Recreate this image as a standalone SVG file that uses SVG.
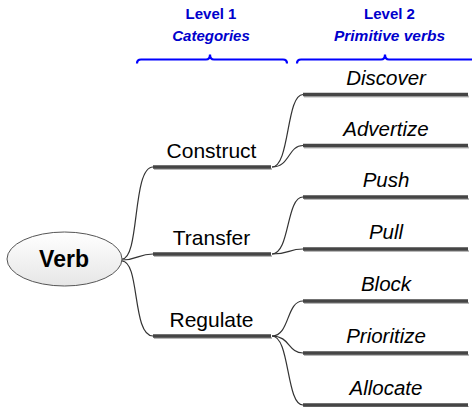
<svg xmlns="http://www.w3.org/2000/svg" width="472" height="407" viewBox="0 0 472 407">
<defs>
<linearGradient id="eg" x1="0" y1="0" x2="0" y2="1">
<stop offset="0" stop-color="#ffffff"/>
<stop offset="1" stop-color="#e6e6e6"/>
</linearGradient>
<style>
.hdr{font-family:"Liberation Sans",Arial,sans-serif;font-weight:bold;fill:#0000cc;text-anchor:middle}
.brace{fill:none;stroke:#0000ff;stroke-width:2.2}
.l1{font-family:"Liberation Sans",Arial,sans-serif;font-size:21px;fill:#000;text-anchor:middle}
.l2{font-family:"Liberation Sans",Arial,sans-serif;font-size:20.5px;font-style:italic;fill:#000;text-anchor:middle}
.bar{stroke:#454545;stroke-width:3.5}
.sh{stroke:#b8b8b8;stroke-width:2}
.con{fill:none;stroke:#333;stroke-width:1.2}
</style>
</defs>
<g id="header">
<text class="hdr" x="211" y="19" font-size="15">Level 1</text>
<text class="hdr" x="211" y="41" font-size="15" font-style="italic">Categories</text>
<text class="hdr" x="389.5" y="19" font-size="15">Level 2</text>
<text class="hdr" x="389.5" y="41" font-size="15.5" font-style="italic">Primitive verbs</text>
<path class="brace" d="M137,63.5 Q137,59.5 141,59.5 L206,59.5 Q210,59.5 210,54.5 Q210,59.5 214,59.5 L283,59.5 Q287,59.5 287,63.5"/>
<path class="brace" d="M297,63.5 Q297,59.5 301,59.5 L381,59.5 Q385,59.5 385,54.5 Q385,59.5 389,59.5 L474,59.5"/>
</g>
<g id="connectors">
<path class="con" d="M122,259 C140,259 132,167 153,167"/>
<path class="con" d="M122,260 C138,260 138,254 153,254"/>
<path class="con" d="M122,261 C140,261 132,336 153,336"/>
<path class="con" d="M272,167 C290,167 286,94.5 303,94.5"/>
<path class="con" d="M272,167 C290,167 288,145.5 303,145.5"/>
<path class="con" d="M272,254 C290,254 286,197 303,197"/>
<path class="con" d="M272,254 C290,254 288,249 303,249"/>
<path class="con" d="M272,336 C290,336 286,301 303,301"/>
<path class="con" d="M272,336 C290,336 288,353 303,353"/>
<path class="con" d="M272,336 C290,336 286,405 303,405"/>
</g>
<g id="verb">
<ellipse cx="64.5" cy="259" rx="57.5" ry="27" fill="url(#eg)" stroke="#555" stroke-width="1"/>
<text x="64" y="267" font-family="Liberation Sans,Arial,sans-serif" font-size="23" font-weight="bold" text-anchor="middle">Verb</text>
</g>
<g id="construct">
<line class="sh" x1="154" y1="169" x2="272" y2="169"/>
<line class="bar" x1="153" y1="167" x2="271" y2="167"/>
<text class="l1" x="211.5" y="158">Construct</text>
</g>
<g id="transfer">
<line class="sh" x1="154" y1="256" x2="272" y2="256"/>
<line class="bar" x1="153" y1="254" x2="271" y2="254"/>
<text class="l1" x="211.5" y="245">Transfer</text>
</g>
<g id="regulate">
<line class="sh" x1="154" y1="338" x2="272" y2="338"/>
<line class="bar" x1="153" y1="336" x2="271" y2="336"/>
<text class="l1" x="211.5" y="327">Regulate</text>
</g>
<g id="discover">
<line class="sh" x1="304" y1="96.5" x2="469" y2="96.5"/>
<line class="bar" x1="303" y1="94.5" x2="468" y2="94.5"/>
<text class="l2" x="386" y="85">Discover</text>
</g>
<g id="advertize">
<line class="sh" x1="304" y1="147.5" x2="469" y2="147.5"/>
<line class="bar" x1="303" y1="145.5" x2="468" y2="145.5"/>
<text class="l2" x="386" y="135.5">Advertize</text>
</g>
<g id="push">
<line class="sh" x1="304" y1="199" x2="469" y2="199"/>
<line class="bar" x1="303" y1="197" x2="468" y2="197"/>
<text class="l2" x="386" y="187">Push</text>
</g>
<g id="pull">
<line class="sh" x1="304" y1="251" x2="469" y2="251"/>
<line class="bar" x1="303" y1="249" x2="468" y2="249"/>
<text class="l2" x="386" y="239">Pull</text>
</g>
<g id="block">
<line class="sh" x1="304" y1="303" x2="469" y2="303"/>
<line class="bar" x1="303" y1="301" x2="468" y2="301"/>
<text class="l2" x="386" y="291">Block</text>
</g>
<g id="prioritize">
<line class="sh" x1="304" y1="355" x2="469" y2="355"/>
<line class="bar" x1="303" y1="353" x2="468" y2="353"/>
<text class="l2" x="386" y="343">Prioritize</text>
</g>
<g id="allocate">
<line class="sh" x1="304" y1="407" x2="469" y2="407"/>
<line class="bar" x1="303" y1="405" x2="468" y2="405"/>
<text class="l2" x="386" y="395">Allocate</text>
</g>
</svg>
